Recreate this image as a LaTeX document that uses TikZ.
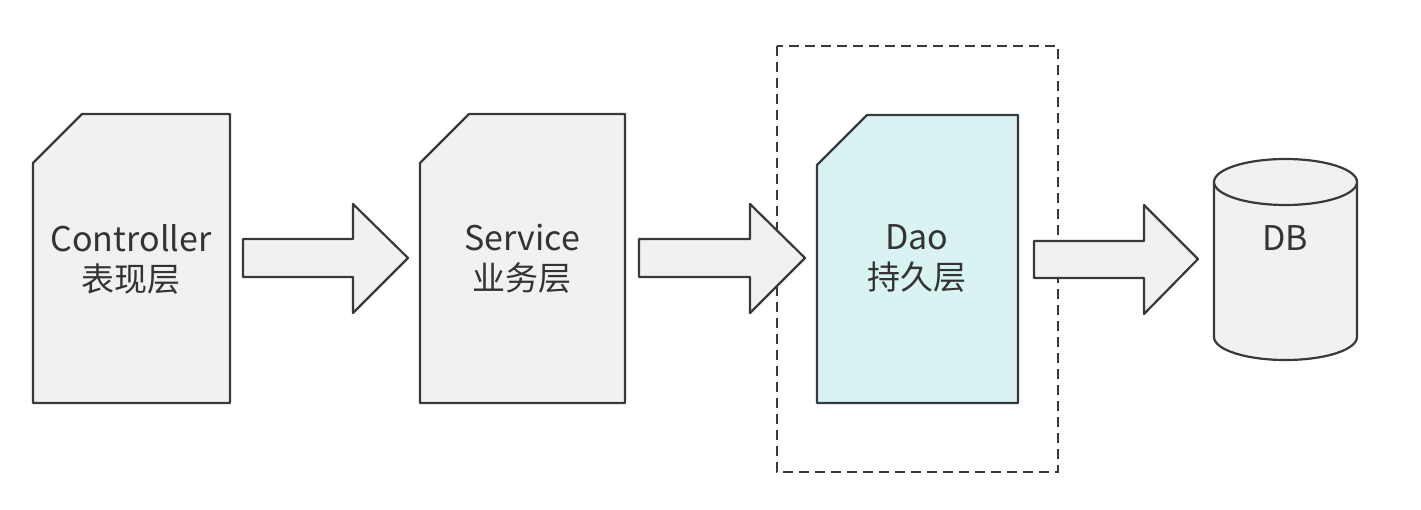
\documentclass[tikz,border=0pt]{standalone}
\usepackage{fontspec}
\setmainfont{Noto Sans CJK SC}
\definecolor{ln}{HTML}{343A3E}
\definecolor{gf}{HTML}{F1F1F1}
\definecolor{cf}{HTML}{D9F3F3}
\definecolor{tx}{HTML}{333333}
\begin{document}
\begin{tikzpicture}[x=1pt,y=-1pt,
  shp/.style={draw=ln,line width=2.2pt,line join=round,fill=gf},
  lbl/.style={text=tx,align=center,font=\fontsize{33}{40}\selectfont},
  lat/.style={font=\fontsize{34}{40}\selectfont}]
\useasboundingbox (0,0) rectangle (1421,509);
% dashed box
\draw[ln,line width=2.4pt,dash pattern=on 10pt off 6pt] (777,46) rectangle (1058,472);
% documents
\draw[shp] (33,163) -- (82,114) -- (230,114) -- (230,403) -- (33,403) -- cycle;
\draw[shp] (420,163) -- (469,114) -- (625,114) -- (625,403) -- (420,403) -- cycle;
\draw[shp,fill=cf] (817,165) -- (867,115) -- (1018,115) -- (1018,403) -- (817,403) -- cycle;
% block arrows
\draw[shp] (243,239) -- (353,239) -- (353,204) -- (408,258) -- (353,313) -- (353,277) -- (243,277) -- cycle;
\draw[shp] (639,239) -- (750,239) -- (750,204) -- (805,258) -- (750,313) -- (750,277) -- (639,277) -- cycle;
\draw[shp] (1034,241) -- (1144,241) -- (1144,205) -- (1198,259) -- (1144,314) -- (1144,278) -- (1034,278) -- cycle;
% cylinder
\draw[shp] (1214,182) -- (1214,337) arc[start angle=180,end angle=0,x radius=71.5,y radius=23] -- (1357,182);
\draw[shp] (1285.5,182) ellipse[x radius=71.5,y radius=23];
% labels
\node[lbl] (c) at (131,259) {{\fontsize{34}{40}\selectfont Controller}\\表现层};
\node[lbl] (s) at (522,259) {{\fontsize{34}{40}\selectfont Service}\\业务层};
\node[lbl] (d) at (917,259) {{\fontsize{34}{40}\selectfont Dao}\\持久层};
\node[lbl,lat] (db) at (1285,238) {DB};
\end{tikzpicture}
\end{document}
